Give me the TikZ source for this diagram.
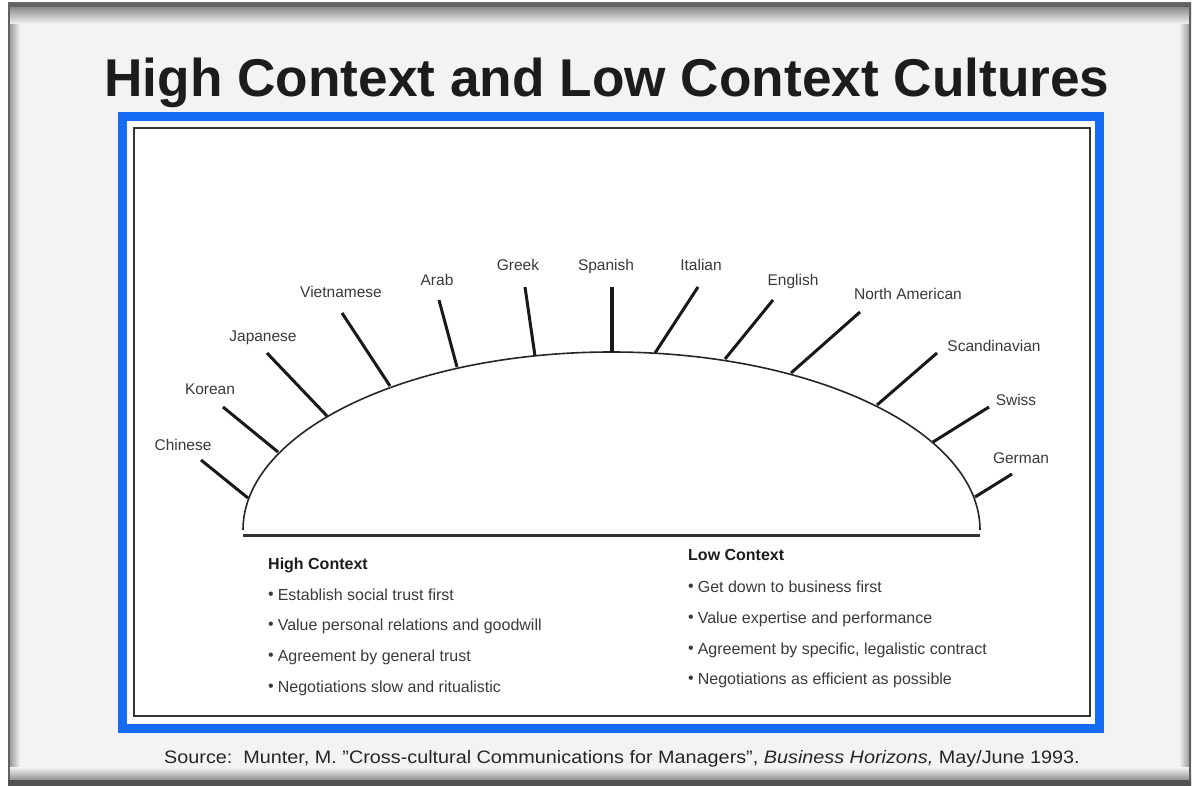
\documentclass[tikz,border=0pt]{standalone}
\usepackage{fontspec}
\setmainfont{Liberation Sans}
\definecolor{frameblue}{HTML}{176CF5}
\definecolor{pagegray}{HTML}{F3F3F3}
\definecolor{inkgray}{HTML}{3A3A3A}
\definecolor{titleink}{HTML}{1C1C1C}
\tikzset{
  lbl/.style={anchor=base, inner sep=0pt, text=inkgray, font=\fontsize{15.5}{17}\selectfont},
  tickline/.style={line width=3pt, black!90},
  arcline/.style={line width=1.6pt, black!85},
  headline/.style={anchor=base west, inner sep=0pt, text=titleink, font=\fontsize{16}{18}\selectfont\bfseries},
  item/.style={anchor=base west, inner sep=0pt, text=inkgray, font=\fontsize{16}{18}\selectfont},
}
\newcommand{\itembullet}{\raisebox{1pt}{\scalebox{1.0}{\textbullet}}\hspace{4pt}}
\begin{document}
\begin{tikzpicture}[x=1pt,y=-1pt]
\useasboundingbox (0,0) rectangle (1196,786);
\fill[white] (0,0) rectangle (1196,786);
% slide frame with a soft shaded rim
\fill[pagegray] (8,3) rectangle (1191,786);
\shade[left color=black!45, right color=pagegray] (8,3) rectangle (20,786);
\shade[left color=pagegray, right color=black!45] (1179,3) rectangle (1191,786);
\shade[top color=black!55, bottom color=pagegray] (8,3) rectangle (1191,24);
\shade[top color=pagegray, bottom color=black!60] (8,767) rectangle (1191,786);
\fill[black!62] (8,3) rectangle (1191,7);
\fill[black!62] (8,3) rectangle (10,786);
\fill[black!62] (1189,3) rectangle (1191,786);
\fill[black!68] (8,780) rectangle (1191,786);
% title
\node[anchor=base, inner sep=0pt, text=titleink, font=\fontsize{53.2}{60}\selectfont\bfseries] (title) at (607,97) {High Context and Low Context Cultures};
% blue frame and inner panel
\fill[white] (118,112) rectangle (1104,733);
\draw[frameblue, line width=9pt] (122.5,116.5) rectangle (1099.5,728.5);
\draw[black!80, line width=2.5pt] (134,128) rectangle (1090,716);
% the arc and its base line
\draw[arcline] (243,530) arc[start angle=180, end angle=360, x radius=368.5, y radius=178];
\draw[line width=3pt, black!80] (243,535) -- (980,535);
% culture labels with their ticks
\foreach \n/\lab/\lx/\ly/\ox/\oy/\ix/\iy/\w in {
  chinese/Chinese/183/450/201/460/248/498/3,
  korean/Korean/210/394/223/407/278/452/3,
  japanese/Japanese/263/341/267/353/327/416/3,
  vietnamese/Vietnamese/341/298/342/313/390/386/3,
  arab/Arab/437/285/439/300/457/367/3,
  greek/Greek/518/270/525/287/535/356/3,
  spanish/Spanish/606/270/612/287/612/352/4,
  italian/Italian/701/270/698/287/655/353/3,
  english/English/793/285/773/300/725/359/3,
  northam/North American/908/299/860/312/791/373/3,
  scand/Scandinavian/994/351/937/353/877/405/3,
  swiss/Swiss/1016/405/989/407/933/442/3,
  german/German/1021/463/1012/474/975/497/3}{
  \node[lbl] (\n) at (\lx,\ly) {\lab};
  \coordinate (\n-out) at (\ox,\oy);
  \coordinate (\n-in) at (\ix,\iy);
  \draw[tickline, line width=\w pt] (\n-out) -- (\n-in);
}
% high context column
\node[headline] (high) at (268,569) {High Context};
\node[item] (h1) at (268,600) {\itembullet Establish social trust first};
\node[item] (h2) at (268,630) {\itembullet Value personal relations and goodwill};
\node[item] (h3) at (268,661) {\itembullet Agreement by general trust};
\node[item] (h4) at (268,692) {\itembullet Negotiations slow and ritualistic};
% low context column
\node[headline] (low) at (688,560) {Low Context};
\node[item] (l1) at (688,592) {\itembullet Get down to business first};
\node[item] (l2) at (688,623) {\itembullet Value expertise and performance};
\node[item] (l3) at (688,654) {\itembullet Agreement by specific, legalistic contract};
\node[item] (l4) at (688,684) {\itembullet Negotiations as efficient as possible};
% source line
\node[anchor=base, inner sep=0pt, text=black!85, font=\fontsize{18}{20}\selectfont] (source) at (622,763)
  {\scalebox{1.1}[1]{Source:\ \ Munter, M. ”Cross-cultural Communications for Managers”, \textit{Business Horizons,} May/June 1993.}};
\end{tikzpicture}
\end{document}
